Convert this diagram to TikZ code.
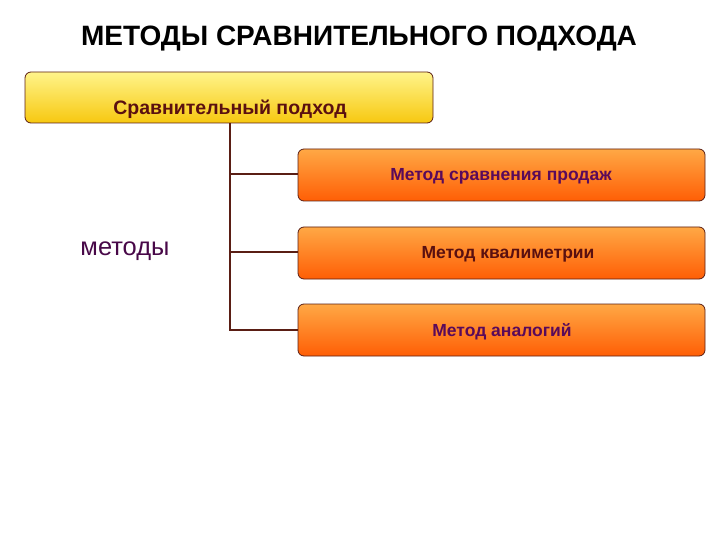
\documentclass[tikz,border=0pt]{standalone}
\usepackage{fontspec}
\setmainfont{Liberation Sans}
\usetikzlibrary{shadings}
\definecolor{edge}{HTML}{5A1E14}
\definecolor{txtbrown}{HTML}{5A1010}
\definecolor{txtpurple}{HTML}{5A0A5A}
\definecolor{ytop}{HTML}{FFF48A}
\definecolor{ybot}{HTML}{F7C810}
\definecolor{otop}{HTML}{FFA845}
\definecolor{obot}{HTML}{FF5E05}
\tikzset{
  ybox/.style={draw=edge,line width=0.8pt,rounded corners=6pt,top color=ytop,bottom color=ybot,minimum width=408pt,minimum height=51pt,inner sep=0pt},
  obox/.style={draw=edge,line width=0.8pt,rounded corners=6pt,top color=otop,bottom color=obot,minimum width=407pt,minimum height=52pt,inner sep=0pt},
  conn/.style={draw=edge,line width=1.3pt},
  btxt/.style={font=\bfseries\fontsize{17.5}{20}\selectfont},
}
\begin{document}
\begin{tikzpicture}[x=1pt,y=-1pt]
\useasboundingbox (0,0) rectangle (720,540);
\node[font=\bfseries\fontsize{28}{32}\selectfont] (title) at (359,39) {МЕТОДЫ СРАВНИТЕЛЬНОГО ПОДХОДА};
\node[ybox] (top) at (229,97.5) {};
\node[font=\bfseries\fontsize{19.5}{22}\selectfont,text=txtbrown] (toptxt) at (230,109) {Сравнительный подход};
\node[obox] (m1) at (501.5,175) {};
\node[obox] (m2) at (501.5,253) {};
\node[obox] (m3) at (501.5,330) {};
\node[btxt,text=txtpurple] (t1) at (501,176) {Метод сравнения продаж};
\node[btxt,text=txtbrown] (t2) at (508,254) {Метод квалиметрии};
\node[btxt,text=txtpurple] (t3) at (502,332) {Метод аналогий};
\node[font=\fontsize{25.5}{28}\selectfont,text=txtpurple!80!black] (lbl) at (125,251) {методы};
\coordinate (c1) at (230,174);
\coordinate (c2) at (230,252);
\coordinate (c3) at (230,330);
\draw[conn] (top.south -| c1) -- (c3) -- (m3.west);
\draw[conn] (c1) -- (c1 -| m1.west);
\draw[conn] (c2) -- (c2 -| m2.west);
\end{tikzpicture}
\end{document}
